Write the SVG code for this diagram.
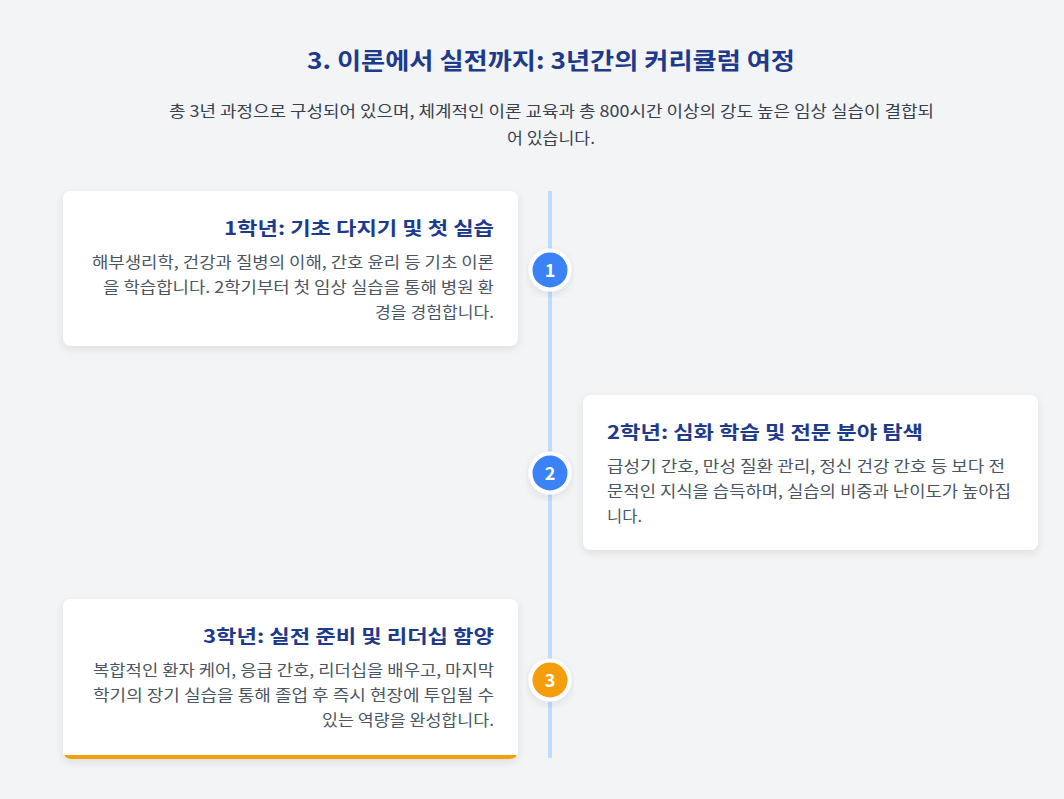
<svg xmlns="http://www.w3.org/2000/svg" width="1064" height="799" viewBox="0 0 1064 799">
<defs>
<filter id="sh" x="-10%" y="-10%" width="120%" height="130%">
<feDropShadow dx="0" dy="3" stdDeviation="4" flood-color="#000" flood-opacity="0.09"/>
</filter>
<clipPath id="c3"><rect x="63" y="599" width="455" height="160" rx="8"/></clipPath>
</defs>
<style>
.t{font-family:"Noto Sans CJK KR","Noto Sans",sans-serif;}
.title{font-size:23px;font-weight:700;fill:#1e3a8a;}
.sub{font-size:15.5px;fill:#374151;}
.h{font-size:18.5px;font-weight:700;fill:#1e3a8a;}
.b{font-size:15.5px;fill:#4b5563;}
.card{fill:#fff;filter:url(#sh);}
.num{font-size:18px;font-weight:700;fill:#fff;}
</style>
<rect width="1064" height="799" fill="#f3f4f6"/>
<text class="t title" x="307" y="69" textLength="488" lengthAdjust="spacingAndGlyphs">3. 이론에서 실전까지: 3년간의 커리큘럼 여정</text>
<text class="t sub" x="169" y="117" textLength="765" lengthAdjust="spacingAndGlyphs">총 3년 과정으로 구성되어 있으며, 체계적인 이론 교육과 총 800시간 이상의 강도 높은 임상 실습이 결합되</text>
<text class="t sub" x="507" y="144" textLength="88" lengthAdjust="spacingAndGlyphs">어 있습니다.</text>
<g id="connectors">
<rect x="548" y="191" width="4" height="567" fill="#bfdbfe"/>
</g>
<g id="card1">
<rect class="card" x="63" y="191" width="455" height="155" rx="8"/>
<text class="t h" x="224" y="235" textLength="270" lengthAdjust="spacingAndGlyphs">1학년: 기초 다지기 및 첫 실습</text>
<text class="t b" x="92" y="268" textLength="402" lengthAdjust="spacingAndGlyphs">해부생리학, 건강과 질병의 이해, 간호 윤리 등 기초 이론</text>
<text class="t b" x="103" y="293" textLength="391" lengthAdjust="spacingAndGlyphs">을 학습합니다. 2학기부터 첫 임상 실습을 통해 병원 환</text>
<text class="t b" x="375" y="318" textLength="119" lengthAdjust="spacingAndGlyphs">경을 경험합니다.</text>
</g>
<g id="dot1">
<circle cx="550" cy="270" r="19.5" fill="#3b82f6" stroke="#fff" stroke-width="4" filter="url(#sh)"/>
<text class="t num" x="550" y="276.5" text-anchor="middle">1</text>
</g>
<g id="card2">
<rect class="card" x="583" y="395" width="455" height="155" rx="8"/>
<text class="t h" x="607" y="439" textLength="316" lengthAdjust="spacingAndGlyphs">2학년: 심화 학습 및 전문 분야 탐색</text>
<text class="t b" x="607" y="472" textLength="398" lengthAdjust="spacingAndGlyphs">급성기 간호, 만성 질환 관리, 정신 건강 간호 등 보다 전</text>
<text class="t b" x="607" y="497" textLength="404" lengthAdjust="spacingAndGlyphs">문적인 지식을 습득하며, 실습의 비중과 난이도가 높아집</text>
<text class="t b" x="607" y="522" textLength="35" lengthAdjust="spacingAndGlyphs">니다.</text>
</g>
<g id="dot2">
<circle cx="550" cy="473" r="19.5" fill="#3b82f6" stroke="#fff" stroke-width="4" filter="url(#sh)"/>
<text class="t num" x="550" y="479.5" text-anchor="middle">2</text>
</g>
<g id="card3">
<rect class="card" x="63" y="599" width="455" height="160" rx="8"/>
<rect x="63" y="755" width="455" height="4" fill="#f59e0b" clip-path="url(#c3)"/>
<text class="t h" x="203" y="643" textLength="291" lengthAdjust="spacingAndGlyphs">3학년: 실전 준비 및 리더십 함양</text>
<text class="t b" x="93" y="676" textLength="401" lengthAdjust="spacingAndGlyphs">복합적인 환자 케어, 응급 간호, 리더십을 배우고, 마지막</text>
<text class="t b" x="93" y="701" textLength="401" lengthAdjust="spacingAndGlyphs">학기의 장기 실습을 통해 졸업 후 즉시 현장에 투입될 수</text>
<text class="t b" x="322" y="726" textLength="172" lengthAdjust="spacingAndGlyphs">있는 역량을 완성합니다.</text>
</g>
<g id="dot3">
<circle cx="550" cy="680" r="19.5" fill="#f59e0b" stroke="#fff" stroke-width="4" filter="url(#sh)"/>
<text class="t num" x="550" y="686.5" text-anchor="middle">3</text>
</g>
</svg>
